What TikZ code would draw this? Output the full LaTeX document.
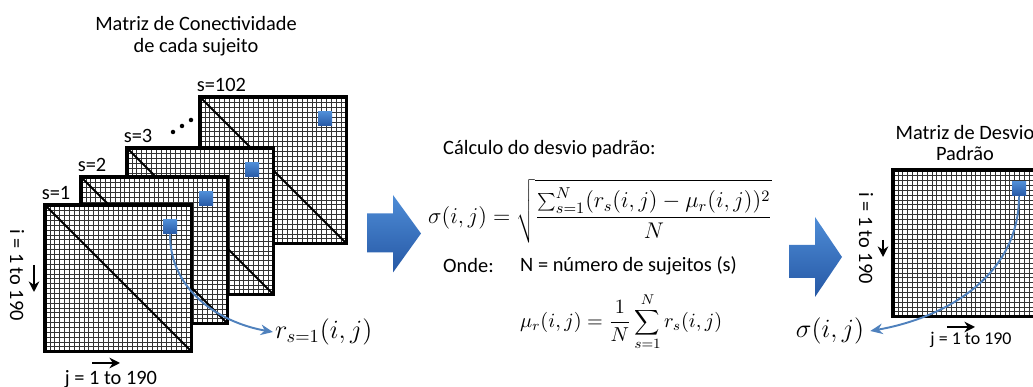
\RequirePackage{fix-cm}
\documentclass[tikz,border=0pt]{standalone}
\usepackage[no-math]{fontspec}
\setmainfont{Carlito}
\usetikzlibrary{arrows.meta}
\definecolor{azulclaro}{RGB}{78,140,214}
\definecolor{azulescuro}{RGB}{38,88,165}
\definecolor{curvaazul}{RGB}{79,129,189}

\begin{document}
\begin{tikzpicture}[
	every node/.style={font=\fontsize{11.6}{12.5}\selectfont},
	matriz/.style={fill=white, minimum size=2.92cm, inner sep=0pt, anchor=north west},
	grade/.style={draw=black!80, line width=0.4pt},
	borda/.style={line width=1.8pt},
	diag/.style={line width=1.2pt},
	quad/.style={top color=azulclaro, bottom color=azulescuro, minimum size=0.28cm, inner sep=0pt},
	seta/.style={top color=azulclaro, bottom color=azulescuro},
	curva/.style={draw=curvaazul, line width=1.1pt, -{Stealth[length=7pt, width=6pt]}},
	eixo/.style={line width=1.5pt, -{Stealth[length=6pt, width=6pt]}},
	texto/.style={anchor=west, inner sep=0.5pt},
	formula/.style={texto, font=\fontsize{12.9}{15}\selectfont}
	]
	\clip (0,0) rectangle (20.66,7.74);

	% Matrizes de cada sujeito
	\node (tit1) [align=center] at (3.92,7.02) {Matriz de Conectividade\\de cada sujeito};
	\foreach \n/\x/\y/\s in {4/4.00/5.80/102, 3/2.54/4.78/3, 2/1.62/4.20/2, 1/0.90/3.64/1} {
		\node (m\n) [matriz] at (\x,\y) {};
		\draw[grade, shift={(m\n.south west)}, step=0.0973] (0,0) grid (2.92,2.92);
		\draw[diag] (m\n.north west) -- (m\n.south east);
		\draw[borda] (m\n.south west) rectangle (m\n.north east);
		\node (b\n) [quad] at ([shift={(2.50,-0.44)}]m\n.north west) {};
		\node (s\n) [anchor=south west, inner sep=1pt] at ([xshift=-3pt, yshift=2pt]m\n.north west) {s=\s};
	}
	\foreach \p in {(3.46,5.10), (3.64,5.22), (3.82,5.34)}
		\fill \p circle (0.045);
	\node (r1) [anchor=west, inner sep=1pt, font=\fontsize{15}{18}\selectfont] at (5.46,1.10) {$r_{s=1}(i,j)$};
	\draw[curva] (b1.south) to[out=-90, in=170] (r1.west);

	% Eixos
	\node (il) [rotate=-90] at (0.34,2.24) {i = 1 to 190};
	\coordinate (ia) at (0.68,2.44);
	\coordinate (ib) at (0.68,1.90);
	\draw[eixo] (ia) -- (ib);
	\node (jl) [anchor=base] at (2.22,0.05) {j = 1 to 190};
	\coordinate (ja) at (1.84,0.48);
	\coordinate (jb) at (2.40,0.48);
	\draw[eixo] (ja) -- (jb);

	% Setas grandes
	\shade[seta] (7.34,3.47) -- (7.86,3.47) -- (7.86,3.84) -- (8.42,3.07) -- (7.86,2.29) -- (7.86,2.69) -- (7.34,2.69) -- cycle;
	\shade[seta] (15.78,2.84) -- (16.30,2.84) -- (16.30,3.40) -- (16.84,2.60) -- (16.30,1.80) -- (16.30,2.18) -- (15.78,2.18) -- cycle;

	% Calculo
	\node (calc) [texto] at (8.84,4.76) {Cálculo do desvio padrão:};
	\node (sigma) [formula] at (8.54,3.52) {$\displaystyle \sigma(i,j)=\sqrt{\frac{\sum_{s=1}^{N}(r_s(i,j)-\mu_r(i,j))^2}{N}}$};
	\node (onde) [texto] at (8.84,2.42) {Onde:};
	\node (nsuj) [texto] at (10.38,2.42) {N = número de sujeitos (s)};
	\node (media) [texto, font=\fontsize{11.5}{14}\selectfont] at (10.38,1.30) {$\displaystyle \mu_r(i,j)=\frac{1}{N}\sum_{s=1}^{N}r_s(i,j)$};

	% Matriz de desvio padrao
	\node (tit2) [align=center] at (19.30,4.88) {Matriz de Desvio\\Padrão};
	\node (mdp) [matriz] at (17.86,4.34) {};
	\draw[grade, shift={(mdp.south west)}, step=0.0973] (0,0) grid (2.92,2.92);
	\draw[borda] (mdp.south west) rectangle (mdp.north east);
	\node (bd) [quad] at ([shift={(2.52,-0.38)}]mdp.north west) {};
	\node (sig) [font=\fontsize{15}{18}\selectfont] at (16.60,1.12) {$\sigma(i,j)$};
	\draw[curva] (bd.south) to[out=-90, in=10] (sig.east);
	\node (il2) [rotate=-90] at (17.32,2.98) {i = 1 to 190};
	\coordinate (ic) at (17.66,2.94);
	\coordinate (id) at (17.66,2.60);
	\draw[eixo] (ic) -- (id);
	\node (jl2) [font=\fontsize{10.2}{12}\selectfont] at (19.42,0.94) {j = 1 to 190};
	\coordinate (jc) at (18.94,1.20);
	\coordinate (jd) at (19.50,1.20);
	\draw[eixo] (jc) -- (jd);
\end{tikzpicture}
\end{document}
